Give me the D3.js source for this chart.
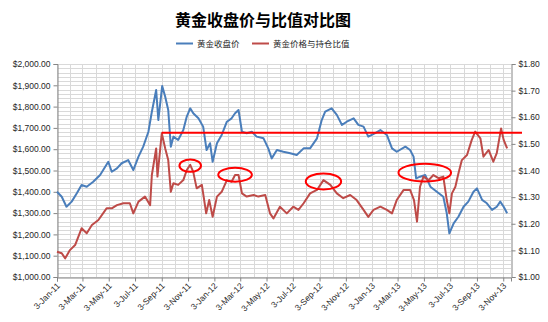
<!DOCTYPE html>
<html><head><meta charset="utf-8">
<script src="https://cdn.jsdelivr.net/npm/d3@7"></script>
<style>
body{margin:0;background:#fff;}
svg{display:block;}
</style></head>
<body><svg id="c" width="548" height="322"></svg>
<script>
// ---- data ----
const title = "黄金收盘价与比值对比图";
const seriesNames = ["黄金收盘价", "黄金价格与持仓比值"];
const xTickLabels = ["3-Jan-11","3-Mar-11","3-May-11","3-Jul-11","3-Sep-11","3-Nov-11","3-Jan-12","3-Mar-12","3-May-12","3-Jul-12","3-Sep-12","3-Nov-12","3-Jan-13","3-Mar-13","3-May-13","3-Jul-13","3-Sep-13","3-Nov-13"];
const leftTicks = [1000,1100,1200,1300,1400,1500,1600,1700,1800,1900,2000];
const rightTicks = [1.0,1.1,1.2,1.3,1.4,1.5,1.6,1.7,1.8];

const goldDates = ["2011-01-03","2011-01-14","2011-01-25","2011-02-06","2011-02-18","2011-03-01","2011-03-13","2011-03-28","2011-04-13","2011-05-02","2011-05-10","2011-05-22","2011-06-02","2011-06-17","2011-06-29","2011-07-11","2011-07-22","2011-08-03","2011-08-11","2011-08-21","2011-08-26","2011-09-04","2011-09-11","2011-09-18","2011-09-24","2011-09-30","2011-10-11","2011-10-23","2011-10-31","2011-11-08","2011-11-15","2011-11-27","2011-12-08","2011-12-16","2011-12-24","2011-12-30","2012-01-09","2012-01-20","2012-02-01","2012-02-12","2012-02-20","2012-02-28","2012-03-07","2012-03-18","2012-03-30","2012-04-10","2012-04-26","2012-05-07","2012-05-15","2012-05-27","2012-06-11","2012-06-27","2012-07-12","2012-07-28","2012-08-12","2012-08-28","2012-09-08","2012-09-16","2012-10-01","2012-10-13","2012-10-25","2012-11-05","2012-11-21","2012-12-02","2012-12-14","2012-12-25","2013-01-10","2013-01-22","2013-02-06","2013-02-18","2013-03-01","2013-03-21","2013-04-01","2013-04-09","2013-04-15","2013-04-24","2013-05-06","2013-05-18","2013-06-02","2013-06-17","2013-06-25","2013-07-01","2013-07-11","2013-07-22","2013-08-03","2013-08-14","2013-08-26","2013-09-03","2013-09-15","2013-09-26","2013-10-08","2013-10-19","2013-10-27","2013-11-04","2013-11-12"];
const goldPrice = [1400,1377,1330,1354,1393,1432,1424,1447,1479,1541,1494,1510,1534,1549,1502,1565,1612,1682,1776,1878,1737,1897,1846,1784,1612,1659,1643,1690,1753,1792,1769,1745,1706,1596,1628,1541,1628,1667,1729,1745,1769,1784,1682,1675,1682,1659,1651,1604,1557,1596,1588,1581,1573,1604,1604,1651,1737,1776,1792,1761,1714,1729,1745,1714,1706,1659,1675,1690,1667,1604,1588,1612,1596,1565,1463,1471,1479,1424,1400,1377,1299,1205,1252,1283,1330,1354,1400,1416,1362,1346,1315,1330,1354,1330,1299];

const ratioDates = ["2011-01-03","2011-01-14","2011-01-22","2011-02-02","2011-02-14","2011-03-01","2011-03-13","2011-03-25","2011-04-09","2011-04-28","2011-05-10","2011-05-22","2011-06-06","2011-06-21","2011-06-29","2011-07-11","2011-07-26","2011-08-07","2011-08-11","2011-08-21","2011-08-24","2011-09-03","2011-09-11","2011-09-18","2011-09-24","2011-09-30","2011-10-11","2011-10-23","2011-10-31","2011-11-08","2011-11-15","2011-11-23","2011-12-05","2011-12-15","2011-12-22","2011-12-30","2012-01-09","2012-01-20","2012-02-01","2012-02-12","2012-02-20","2012-02-28","2012-03-07","2012-03-18","2012-04-03","2012-04-14","2012-04-30","2012-05-11","2012-05-19","2012-06-03","2012-06-19","2012-07-04","2012-07-16","2012-07-28","2012-08-12","2012-08-28","2012-09-12","2012-09-28","2012-10-13","2012-10-28","2012-11-13","2012-11-28","2012-12-14","2012-12-25","2013-01-06","2013-01-22","2013-02-06","2013-02-18","2013-03-01","2013-03-17","2013-04-01","2013-04-10","2013-04-17","2013-04-24","2013-05-02","2013-05-14","2013-05-25","2013-06-06","2013-06-17","2013-06-25","2013-07-01","2013-07-07","2013-07-15","2013-07-22","2013-07-30","2013-08-11","2013-08-22","2013-08-30","2013-09-11","2013-09-18","2013-09-30","2013-10-11","2013-10-19","2013-10-29","2013-11-04","2013-11-12"];
const ratioValue = [1.095,1.089,1.070,1.101,1.120,1.183,1.164,1.195,1.214,1.258,1.258,1.270,1.277,1.277,1.239,1.283,1.302,1.270,1.383,1.483,1.377,1.540,1.483,1.439,1.320,1.352,1.346,1.364,1.402,1.421,1.395,1.333,1.346,1.239,1.289,1.226,1.302,1.320,1.364,1.358,1.383,1.383,1.314,1.302,1.308,1.302,1.308,1.239,1.220,1.264,1.239,1.264,1.252,1.277,1.314,1.327,1.364,1.346,1.314,1.296,1.308,1.289,1.252,1.226,1.252,1.264,1.252,1.239,1.289,1.327,1.327,1.289,1.208,1.339,1.377,1.364,1.383,1.371,1.377,1.289,1.239,1.314,1.339,1.389,1.439,1.458,1.515,1.546,1.521,1.452,1.477,1.433,1.465,1.558,1.515,1.483];

// annotations (date, ratio)
const refLineStart = "2011-09-03";
const refLineValue = 1.542;
const ellipseDates = ["2011-11-08","2012-02-20","2012-09-12","2013-05-05"];
const ellipseValues = [1.418,1.384,1.359,1.392];
const ellipseDays = [25,39,41,61];     // half-width in days
const ellipseSpan = [0.023,0.026,0.030,0.033]; // half-height in ratio units

// ---- chart ----
const svg = d3.select("#c");
const parse = d3.timeParse("%Y-%m-%d");
const parseTick = d3.timeParse("%d-%b-%y");
const fmtTick = d3.timeFormat("%-d-%b-%y");

const x = d3.scaleTime().domain([parse("2011-01-03"), parse("2013-11-21")]).range([57, 511]);
const yL = d3.scaleLinear().domain([1000, 2000]).range([277, 64]);
const yR = d3.scaleLinear().domain([1.0, 1.8]).range([277, 64]);

// gridlines
const grid = svg.append("g");
const hMinor = d3.range(1000, 2001, 20);
grid.selectAll("line.h").data(hMinor).join("line")
  .attr("x1", 57).attr("x2", 511)
  .attr("y1", d => Math.round(yL(d)) + 0.5).attr("y2", d => Math.round(yL(d)) + 0.5)
  .attr("stroke", "#d9d9d9").attr("stroke-width", 1);
const months = d3.timeMonth.range(parse("2011-01-01"), parse("2013-11-02")).map(d => d3.timeDay.offset(d, 2));
grid.selectAll("line.v").data(months).join("line")
  .attr("x1", d => Math.round(x(d)) + 0.5).attr("x2", d => Math.round(x(d)) + 0.5)
  .attr("y1", 64).attr("y2", 277)
  .attr("stroke", "#d9d9d9").attr("stroke-width", 1);

// axes
const axisColor = "#868686";
const fontFam = "'Liberation Sans', Arial, sans-serif";
const gL = svg.append("g").attr("transform", "translate(57.5,0)")
  .call(d3.axisLeft(yL).tickValues(leftTicks).tickSize(4).tickPadding(3)
    .tickFormat(d => "$" + d3.format(",.2f")(d)));
const gR = svg.append("g").attr("transform", "translate(511.5,0)")
  .call(d3.axisRight(yR).tickValues(rightTicks).tickSize(4).tickPadding(3)
    .tickFormat(d => "$" + d3.format(".2f")(d)));
const gX = svg.append("g").attr("transform", "translate(0,277.5)")
  .call(d3.axisBottom(x).tickValues(xTickLabels.map(parseTick)).tickSize(4).tickFormat(fmtTick));
[gL, gR, gX].forEach(g => {
  g.select(".domain").attr("stroke", axisColor);
  g.selectAll(".tick line").attr("stroke", axisColor);
  g.selectAll("text").attr("font-family", fontFam).attr("font-size", 8.5).attr("fill", "#262626");
});
gX.selectAll(".tick line").attr("y2", 4);
gX.selectAll("text")
  .attr("text-anchor", "end").attr("dy", 0).attr("y", 0)
  .attr("transform", "translate(3,9) rotate(-45)");

// lines
const goldData = goldDates.map((d, i) => ({ d: parse(d), v: goldPrice[i] }));
const ratioData = ratioDates.map((d, i) => ({ d: parse(d), v: ratioValue[i] }));
svg.append("path").datum(goldData)
  .attr("fill", "none").attr("stroke", "#4a7ebb").attr("stroke-width", 2).attr("stroke-linejoin", "round")
  .attr("d", d3.line().x(p => x(p.d)).y(p => yL(p.v)));
svg.append("path").datum(ratioData)
  .attr("fill", "none").attr("stroke", "#be4b48").attr("stroke-width", 2).attr("stroke-linejoin", "round")
  .attr("d", d3.line().x(p => x(p.d)).y(p => yR(p.v)));

// annotations
svg.append("line")
  .attr("x1", x(parse(refLineStart))).attr("x2", 522)
  .attr("y1", yR(refLineValue)).attr("y2", yR(refLineValue))
  .attr("stroke", "#ff0000").attr("stroke-width", 2);
ellipseDates.forEach((d, i) => {
  const c = parse(d);
  const cx = x(c), cy = yR(ellipseValues[i]);
  const rx = x(d3.timeDay.offset(c, ellipseDays[i])) - cx;
  const ry = yR(ellipseValues[i] - ellipseSpan[i]) - cy;
  svg.append("ellipse").attr("cx", cx).attr("cy", cy).attr("rx", rx).attr("ry", ry)
    .attr("fill", "none").attr("stroke", "#ff0000").attr("stroke-width", 2);
});

// title
svg.append("text").attr("x", 263).attr("y", 26).attr("text-anchor", "middle")
  .attr("font-family", "'Noto Sans CJK SC', sans-serif").attr("font-weight", "bold")
  .attr("font-size", 16).attr("fill", "#000").text(title);

// legend
const legend = [{ x: 176, c: "#4a7ebb" }, { x: 252, c: "#be4b48" }];
legend.forEach((l, i) => {
  svg.append("line").attr("x1", l.x).attr("x2", l.x + 17).attr("y1", 43.5).attr("y2", 43.5)
    .attr("stroke", l.c).attr("stroke-width", 2);
  svg.append("text").attr("x", l.x + 21).attr("y", 46.5)
    .attr("font-family", "'Noto Sans CJK SC', sans-serif").attr("font-size", 8.5).attr("fill", "#262626")
    .text(seriesNames[i]);
});
</script></body></html>
